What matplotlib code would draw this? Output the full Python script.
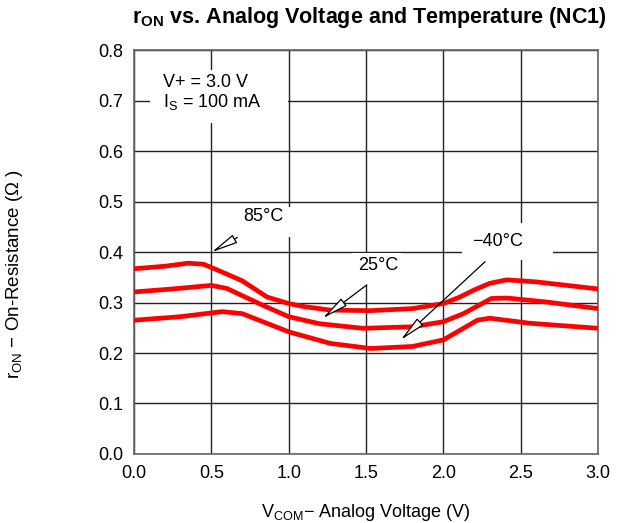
import matplotlib
matplotlib.use('Agg')
import matplotlib.pyplot as plt
from matplotlib.patches import Rectangle

plt.rcParams['font.family'] = ['Liberation Sans', 'DejaVu Sans']

# 85 C curve
x_85 = [0.0, 0.2, 0.35, 0.45, 0.55, 0.7, 0.86, 1.0, 1.1, 1.27, 1.53, 1.8, 2.0, 2.1, 2.2, 2.3, 2.41, 2.6, 2.8, 3.0]
r_85 = [0.367, 0.372, 0.378, 0.376, 0.363, 0.343, 0.311, 0.298, 0.292, 0.285, 0.284, 0.288, 0.298, 0.310, 0.325, 0.338, 0.345, 0.341, 0.334, 0.327]

# 25 C curve
x_25 = [0.0, 0.25, 0.5, 0.6, 0.83, 1.0, 1.2, 1.48, 1.8, 2.0, 2.13, 2.31, 2.41, 2.67, 3.0]
r_25 = [0.321, 0.327, 0.334, 0.328, 0.295, 0.272, 0.258, 0.249, 0.252, 0.262, 0.278, 0.308, 0.309, 0.301, 0.288]

# -40 C curve
x_m40 = [0.0, 0.3, 0.57, 0.7, 1.0, 1.27, 1.53, 1.8, 2.0, 2.13, 2.22, 2.3, 2.56, 3.0]
r_m40 = [0.265, 0.272, 0.282, 0.278, 0.242, 0.219, 0.209, 0.213, 0.226, 0.249, 0.265, 0.269, 0.259, 0.249]

x_ticks = [0.0, 0.5, 1.0, 1.5, 2.0, 2.5, 3.0]
y_ticks = [0.0, 0.1, 0.2, 0.3, 0.4, 0.5, 0.6, 0.7, 0.8]

fig = plt.figure(figsize=(6.19, 5.23), dpi=100)
ax = fig.add_axes([0.2165, 0.132, 0.7495, 0.772])

ax.set_xlim(0, 3.0)
ax.set_ylim(0, 0.8)
ax.set_xticks(x_ticks)
ax.set_yticks(y_ticks)
ax.set_xticklabels([f'{v:.1f}' for v in x_ticks])
ax.set_yticklabels([f'{v:.1f}' for v in y_ticks])
ax.tick_params(length=0, labelsize=13, pad=8, colors='black')
ax.grid(True, color='#222222', linewidth=1.0)
ax.set_axisbelow(True)
for s in ax.spines.values():
    s.set_color('#666666')
    s.set_linewidth(1.2)

# white boxes behind the labels (they break the grid)
boxes = [(0.103, 0.655, 0.893, 0.105),
         (0.68, 0.43, 0.38, 0.059),
         (1.41, 0.335, 0.32, 0.063),
         (2.12, 0.384, 0.59, 0.073)]
for bx, by, bw, bh in boxes:
    ax.add_patch(Rectangle((bx, by), bw, bh, facecolor='white', edgecolor='none', zorder=1.5))

for xs, ys in [(x_85, r_85), (x_25, r_25), (x_m40, r_m40)]:
    ax.plot(xs, ys, color='#ff0000', linewidth=3.4, zorder=3, solid_capstyle='butt')

ax.text(0.19, 0.737, 'V+ = 3.0 V', fontsize=13, va='center', ha='left', zorder=4)
ax.text(0.19, 0.697, r'I$_\mathregular{S}$ = 100 mA', fontsize=13, va='center', ha='left', zorder=4)

lab_font = ['Liberation Sans Narrow', 'Liberation Sans', 'DejaVu Sans']
arrow = dict(arrowstyle='-|>,head_length=0.9,head_width=0.16', color='black', lw=0.9,
             fc='white', mutation_scale=18, shrinkA=0, shrinkB=0)
ax.annotate('', xy=(0.503, 0.400), xytext=(0.668, 0.429), arrowprops=arrow, zorder=4)
ax.text(0.834, 0.471, '85°C', fontsize=13, family=lab_font, ha='center', va='center', zorder=4)
ax.annotate('', xy=(1.22, 0.269), xytext=(1.505, 0.335), arrowprops=arrow, zorder=4)
ax.text(1.578, 0.374, '25°C', fontsize=13, family=lab_font, ha='center', va='center', zorder=4)
ax.annotate('', xy=(1.725, 0.226), xytext=(2.27, 0.381), arrowprops=arrow, zorder=4)
ax.text(2.353, 0.420, '\u221240°C', fontsize=13, family=lab_font, ha='center', va='center', zorder=4)

fig.text(0.597, 0.966, r'r$_\mathregular{ON}$ vs. Analog Voltage and Temperature (NC1)',
         fontsize=15.5, fontweight='bold', ha='center', va='center')
ax.set_xlabel('V$_\\mathregular{COM}$\u2212 Analog Voltage (V)', fontsize=13, labelpad=14)
ax.set_ylabel('r$_\\mathregular{ON}$ \u2212 On-Resistance (\u03a9 )', fontsize=13.5)
ax.yaxis.set_label_coords(-0.235, 0.445)

fig.savefig('out.png', dpi=100)
